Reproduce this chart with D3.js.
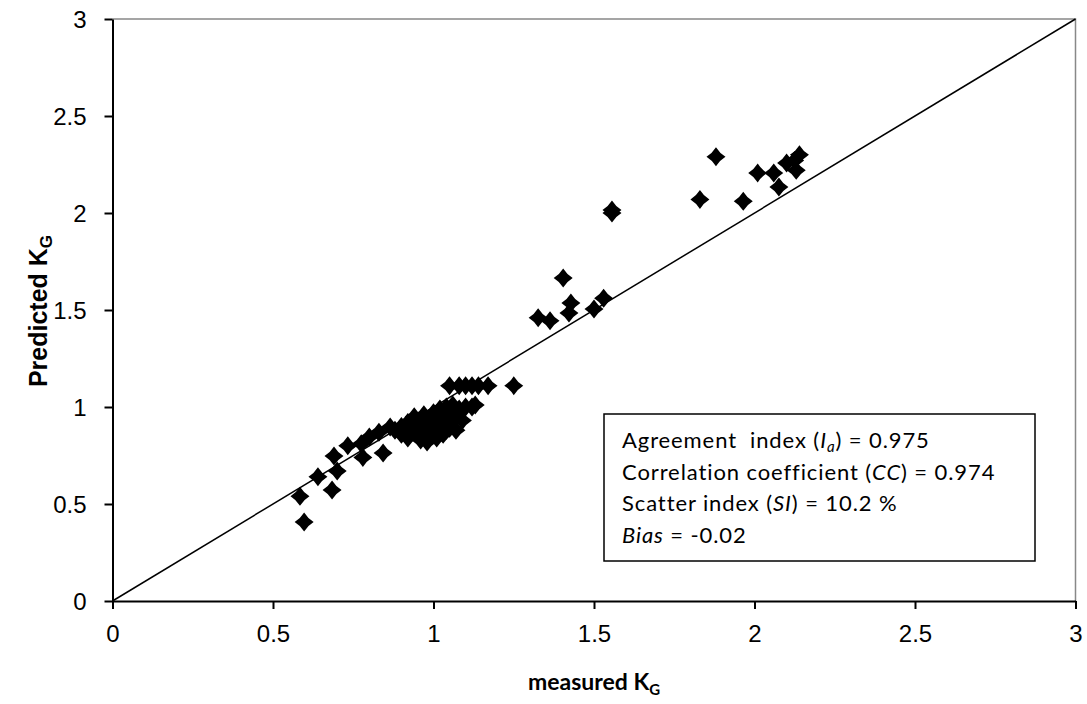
<!DOCTYPE html>
<html><head><meta charset="utf-8">
<script src="https://cdn.jsdelivr.net/npm/d3@7"></script>
<style>body{margin:0;background:#fff}svg{display:block}text{white-space:pre}</style>
</head><body>
<script>
const measured = [0.584,0.597,0.64,0.684,0.69,0.70,0.733,0.775,0.78,0.80,0.83,0.843,0.865,
 0.88,0.90,0.90,0.92,0.92,0.93,0.94,0.95,0.95,0.96,0.96,0.97,0.97,0.98,0.98,0.99,0.99,1.00,1.00,
 1.01,1.01,1.02,1.02,1.03,1.03,1.04,1.04,1.05,1.05,1.06,1.06,1.07,1.07,1.08,1.09,1.10,1.12,1.13,1.04,
 1.05,1.08,1.10,1.12,1.14,1.17,1.25,
 1.326,1.363,1.404,1.422,1.428,1.50,1.53,1.556,1.556,
 1.83,1.88,1.965,2.01,2.06,2.076,2.10,2.125,2.13,2.14];
const predicted = [0.54,0.407,0.64,0.572,0.747,0.67,0.80,0.81,0.74,0.845,0.87,0.763,0.897,
 0.88,0.86,0.90,0.84,0.92,0.88,0.95,0.86,0.90,0.83,0.93,0.88,0.96,0.82,0.90,0.86,0.94,0.88,0.97,
 0.84,0.92,0.90,0.99,0.86,0.94,0.96,1.00,0.89,0.98,0.93,1.01,0.96,0.88,0.99,0.93,1.00,1.00,1.01,0.88,
 1.11,1.11,1.11,1.11,1.11,1.11,1.11,
 1.46,1.445,1.665,1.485,1.536,1.505,1.56,2.0,2.015,
 2.07,2.29,2.06,2.206,2.206,2.134,2.258,2.27,2.22,2.30];
const xTicks = [0,0.5,1,1.5,2,2.5,3];
const yTicks = [0,0.5,1,1.5,2,2.5,3];
const statLines = [
 [["Agreement  index (",""],["I","i"],["a","isub"],[") = 0.975","after"]],
 [["Correlation coefficient (",""],["CC","i"],[") = 0.974",""]],
 [["Scatter index (",""],["SI","i"],[") = 10.2 %",""]],
 [["Bias","i"],[" = -0.02",""]]
];

const W=1087,H=704;
const svg=d3.select("body").append("svg").attr("width",W).attr("height",H);
const x=d3.scaleLinear().domain([0,3]).range([112.5,1075.5]);
const y=d3.scaleLinear().domain([0,3]).range([601,19]);

svg.append("path").attr("d",`M${x(0)},${y(3)}H${x(3)}V${y(0)}`).attr("fill","none").attr("stroke","#888").attr("stroke-width",1.5);

svg.append("line").attr("x1",x(0)).attr("y1",y(0)).attr("x2",x(3)).attr("y2",y(3)).attr("stroke","#000").attr("stroke-width",1.5);

const s=9.5,c=3.6;
const diamond=`M0,${-s}Q${c},${-c} ${s},0Q${c},${c} 0,${s}Q${-c},${c} ${-s},0Q${-c},${-c} 0,${-s}Z`;
svg.append("g").selectAll("path").data(measured.map((m,i)=>[m,predicted[i]])).join("path")
 .attr("d",diamond).attr("transform",d=>`translate(${x(d[0])},${y(d[1])})`).attr("fill","#000");

const font="'Liberation Sans', Arial, sans-serif";
const gx=svg.append("g").attr("transform",`translate(0,${y(0)})`)
 .call(d3.axisBottom(x).tickValues(xTicks).tickFormat(d3.format("")).tickSize(8).tickSizeOuter(0));
const gy=svg.append("g").attr("transform",`translate(${x(0)},0)`)
 .call(d3.axisLeft(y).tickValues(yTicks).tickFormat(d3.format("")).tickSize(8).tickSizeOuter(0));
[gx,gy].forEach(g=>{g.select(".domain").attr("stroke","#000").attr("stroke-width",2);
 g.selectAll(".tick line").attr("stroke","#000").attr("stroke-width",2);
 g.selectAll(".tick text").attr("font-family",font).attr("font-size",24).attr("fill","#000");});
gx.selectAll(".tick text").attr("y",41).attr("dy",0);
gy.selectAll(".tick text").attr("x",-26).attr("dy","0.36em");

const tfont="Lato, 'Open Sans', sans-serif";
const xt=svg.append("text").attr("x",594).attr("y",690).attr("text-anchor","middle")
 .attr("font-family",tfont).attr("font-weight","bold").attr("font-size",23);
xt.append("tspan").text("measured K");
xt.append("tspan").attr("font-size",15).attr("dy",5).text("G");
const yt=svg.append("text").attr("transform","translate(47,311) rotate(-90)").attr("text-anchor","middle")
 .attr("font-family",font).attr("font-weight","bold").attr("font-size",25);
yt.append("tspan").text("Predicted K");
yt.append("tspan").attr("font-size",17).attr("dy",5).text("G");

svg.append("rect").attr("x",604).attr("y",414).attr("width",431).attr("height",147)
 .attr("fill","#fff").attr("stroke","#000").attr("stroke-width",1.5);
statLines.forEach((parts,i)=>{
 const t=svg.append("text").attr("x",622).attr("y",448+i*31.5).attr("font-family",tfont).attr("font-size",22)
  .attr("letter-spacing",0.9).attr("fill","#000");
 parts.forEach(p=>{
  const ts=t.append("tspan").text(p[0]);
  if(p[1]==="i") ts.attr("font-style","italic");
  if(p[1]==="isub") ts.attr("font-style","italic").attr("font-size",15).attr("dy",4);
  if(p[1]==="after") ts.attr("dy",-4);
 });
});
</script>
</body></html>
